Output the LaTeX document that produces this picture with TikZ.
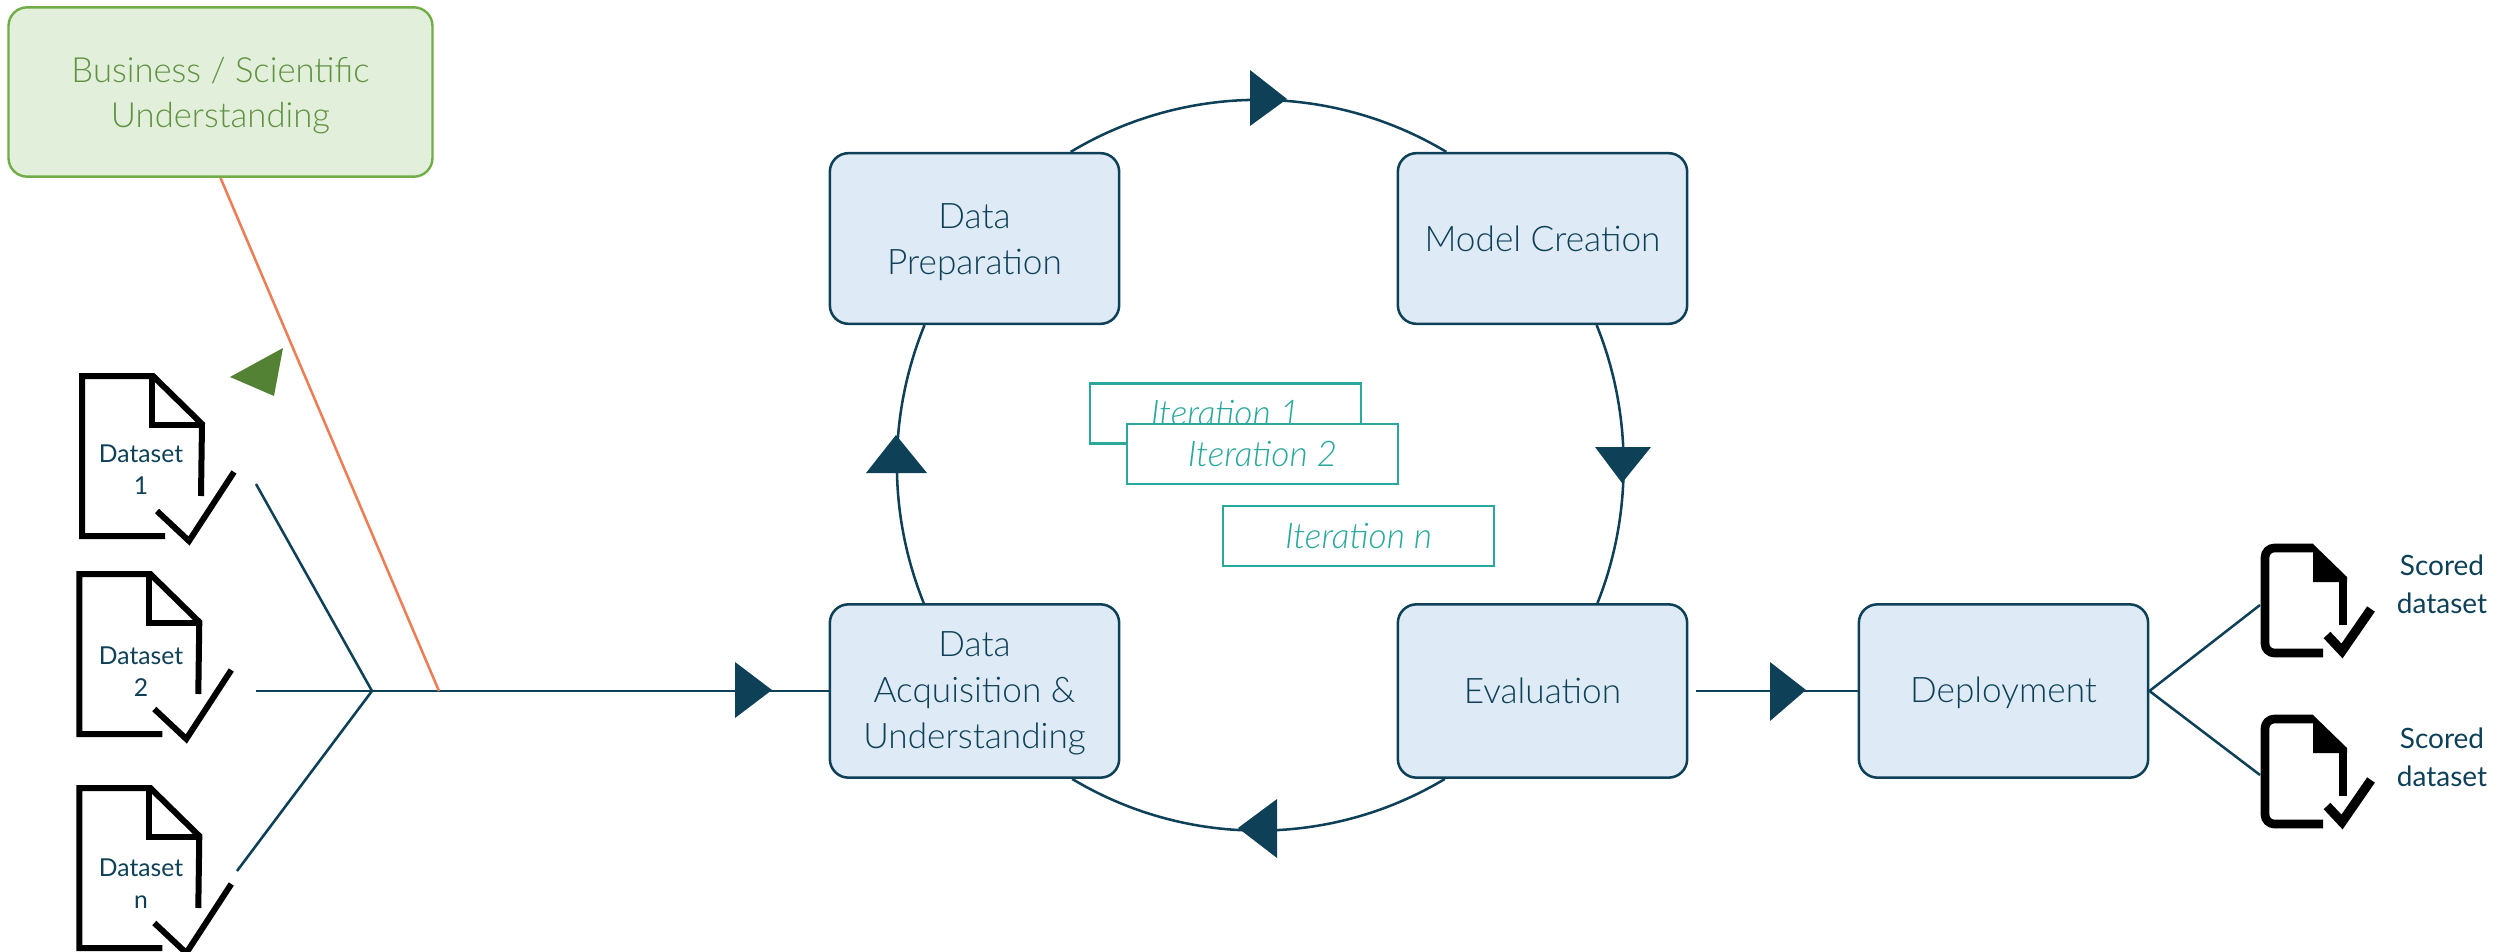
\documentclass[tikz,border=0pt]{standalone}
\usepackage{fontspec}
\setmainfont{Lato}[UprightFont=* Light,ItalicFont=* Light Italic]
\newfontfamily\iconfont{Lato}
\usetikzlibrary{positioning}
\definecolor{navy}{RGB}{14,65,88}
\definecolor{boxblue}{RGB}{222,234,246}
\definecolor{leafgreen}{RGB}{226,239,218}
\definecolor{edgegreen}{RGB}{112,173,71}
\definecolor{textgreen}{RGB}{96,146,66}
\definecolor{flaggreen}{RGB}{84,130,53}
\definecolor{coral}{RGB}{237,125,84}
\definecolor{teal}{RGB}{42,168,156}
\newcommand{\dropline}[1]{\rule{0pt}{#1}}
\tikzset{
  stage/.style={draw=navy,fill=boxblue,line width=1.9pt,rounded corners=14pt,minimum width=217pt,minimum height=128pt,
    inner sep=0pt,align=center,text=navy,font=\fontsize{26.4}{34.5}\selectfont},
  iteration/.style={draw=teal,fill=white,line width=1.7pt,minimum width=203pt,minimum height=45pt,inner sep=0pt,
    text=teal,font=\fontsize{26.5}{30}\selectfont\itshape},
  link/.style={draw=navy,line width=1.9pt},
  head/.style={fill=navy},
  dsetlabel/.style={inner sep=0pt,align=center,text=navy,font=\iconfont\fontsize{18.5}{24}\selectfont},
  scorelabel/.style={inner sep=0pt,align=center,text=navy,font=\iconfont\fontsize{21}{28.5}\selectfont},
  every pic/.style={yscale=-1},
  datasetdoc/.pic={
    \draw[line width=4.5pt,miter limit=2] (83,160) -- (0,160) -- (0,0) -- (71,0) -- (120,48) -- (119,120);
    \draw[line width=4.5pt] (70,0) -- (70,49) -- (120,49);
    \draw[line width=4.5pt] (75,135) -- (107,165) -- (152,96);
  },
  scoreddoc/.pic={
    \draw[line width=6.5pt,rounded corners=7pt] (58,105) -- (0,105) -- (0,0) -- (48,0);
    \fill (48,-4) -- (82,29) -- (82,34) -- (48,34) -- cycle;
    \draw[line width=6.5pt] (78,29) -- (78,77);
    \draw[line width=7pt] (62,87) -- (77,103) -- (106,61);
  }
}
\begin{document}
\begin{tikzpicture}[x=0.75pt,y=0.75pt,yscale=-1,xscale=1]
\useasboundingbox (0,0) rectangle (2506,952);

% stages
\node [stage] (prep) at (974.5,238.5) {\dropline{24pt}Data\\Preparation};
\node [stage] (model) at (1542.5,238.5) {Model Creation};
\node [stage,minimum height=130pt] (acq) at (974.5,691) {\dropline{22pt}Data\\Acquisition \&\\Understanding};
\node [stage,minimum height=130pt] (eval) at (1542.5,691) {Evaluation};
\node [stage,minimum height=130pt] (deploy) at (2003.5,691) {\dropline{22pt}Deployment};
\node [draw=edgegreen,fill=leafgreen,line width=1.8pt,rounded corners=14pt,minimum width=318pt,minimum height=127pt,inner sep=0pt,
  align=center,text=textgreen,font=\fontsize{26}{34}\selectfont] (business) at (220.5,92) {\dropline{24pt}Business / Scientific\\Understanding};

% cycle
\draw [link] (prep.42) to [bend right=31,looseness=0.92] (model.138);
\draw [link] (model.-58) to [bend right=22,looseness=0.87] (eval.58);
\draw [link] (eval.-138) to [bend right=31,looseness=0.92] (acq.-42);
\draw [link] (acq.120) to [bend right=22,looseness=0.89] (prep.-120);
\fill [head] (1250,70) -- (1287,99) -- (1250,126) -- cycle;
\fill [head] (1595,447) -- (1651,447) -- (1622,483) -- cycle;
\fill [head] (1277,799) -- (1238,828) -- (1277,858) -- cycle;
\fill [head] (866,473) -- (927,473) -- (896,435) -- cycle;

% iterations
\node [iteration] (iter1) at (1225.5,413.5) {Iteration 1};
\node [iteration] (iter2) at (1262.5,454) {Iteration 2};
\node [iteration] (itern) at (1358.5,536) {Iteration n};

% datasets
\pic at (82,376) {datasetdoc};
\pic at (79.3,574) {datasetdoc};
\pic at (79.3,788) {datasetdoc};
\node [dsetlabel] (dset1) at (141,470) {Dataset\\1};
\node [dsetlabel] (dset2) at (141,672) {Dataset\\2};
\node [dsetlabel] (dsetn) at (141,884) {Dataset\\n};
\coordinate (from1) at (256,484);
\coordinate (from2) at (256,691);
\coordinate (fromn) at (237,871);
\coordinate (junction) at (372,691);
\coordinate (hit) at (439,691);
\draw [link] (from1) -- (junction);
\draw [link] (from2) -- (junction);
\draw [link] (fromn) -- (junction);
\draw [link] (junction) -- (acq.west);
\fill [head] (735,662) -- (772,690) -- (735,718) -- cycle;
\draw [draw=coral,line width=1.9pt] (business.south) -- (hit);
\fill [flaggreen] (230,377) -- (283,348) -- (274,396) -- cycle;

% deployment
\draw [link] ([xshift=6]eval.east) -- (deploy.west);
\fill [head] (1770,662) -- (1806,690) -- (1770,721) -- cycle;
\pic at (2265,548) {scoreddoc};
\pic at (2265,719) {scoreddoc};
\coordinate (to1) at (2260,605);
\coordinate (to2) at (2260,775);
\draw [link] (deploy.east) -- (to1);
\draw [link] (deploy.east) -- (to2);
\node [scorelabel] (score1) at (2442,584) {Scored\\dataset};
\node [scorelabel] (score2) at (2442,757) {Scored\\dataset};

\end{tikzpicture}
\end{document}
